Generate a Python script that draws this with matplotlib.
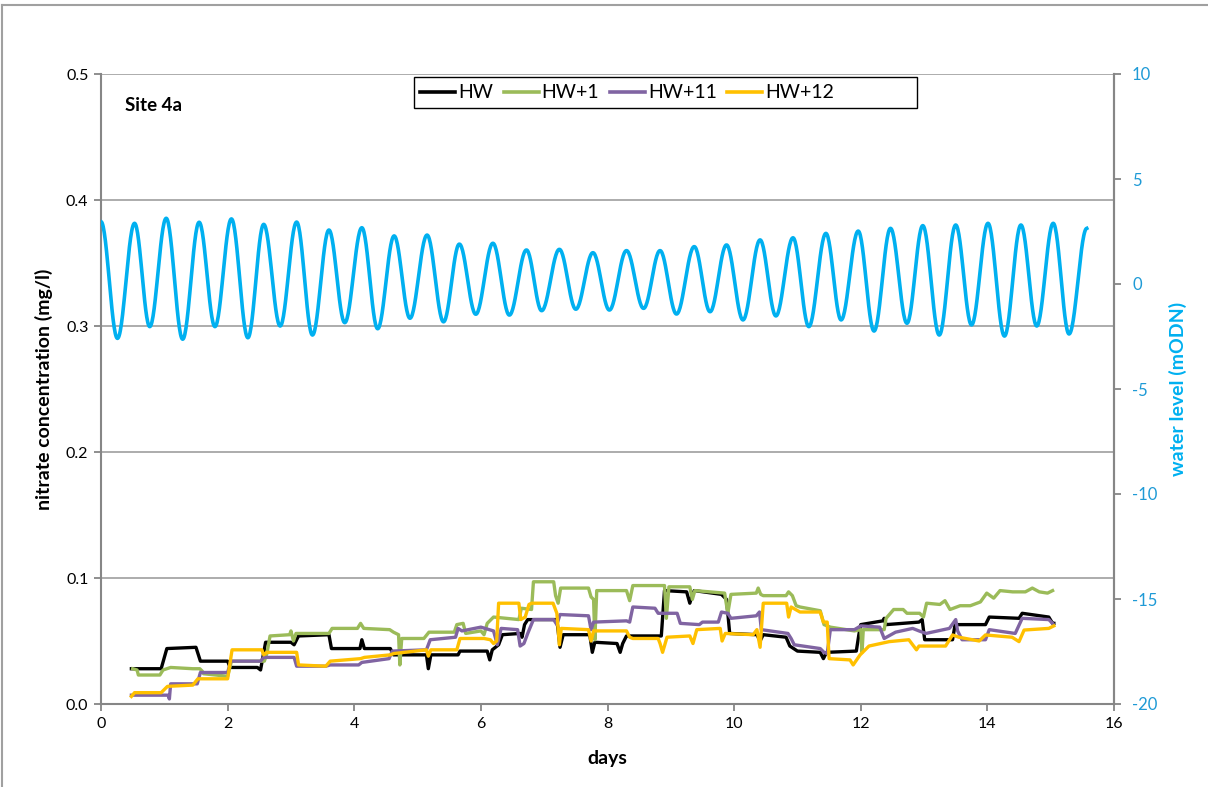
import numpy as np
import matplotlib
matplotlib.use("Agg")
import matplotlib.pyplot as plt
from matplotlib.lines import Line2D
from matplotlib.patches import Rectangle

plt.rcParams['font.family'] = ['Lato', 'DejaVu Sans']
plt.rcParams['axes.unicode_minus'] = False

# ---------------- data ----------------
hw_t = [0.48, 0.95, 1.04, 1.50, 1.57, 2.00, 2.04, 2.47, 2.52, 2.60, 3.00, 3.05, 3.12, 3.60, 3.64,
        4.09, 4.12, 4.16, 4.57, 4.62, 5.14, 5.17, 5.21, 5.64, 5.67, 6.10, 6.14, 6.18, 6.28, 6.34,
        6.62, 6.65, 6.69, 6.74, 7.20, 7.25, 7.30, 7.72, 7.76, 7.80, 8.15, 8.20, 8.24, 8.30, 8.85,
        8.90, 9.25, 9.30, 9.33, 9.37, 9.80, 9.88, 9.93, 10.36, 10.41, 10.46, 10.82, 10.88, 11.00,
        11.36, 11.41, 11.46, 11.93, 11.97, 12.00, 12.35, 12.37, 12.40, 12.92, 12.97, 13.01, 13.45,
        13.49, 13.97, 14.03, 14.50, 14.55, 14.97, 15.03, 15.05]
hw_v = [0.028, 0.028, 0.044, 0.045, 0.034, 0.034, 0.029, 0.029, 0.027, 0.049, 0.049, 0.047, 0.054, 0.055, 0.044,
        0.044, 0.051, 0.044, 0.044, 0.039, 0.039, 0.028, 0.039, 0.039, 0.042, 0.042, 0.035, 0.043, 0.047, 0.055,
        0.056, 0.053, 0.063, 0.067, 0.067, 0.045, 0.055, 0.055, 0.041, 0.049, 0.048, 0.041, 0.048, 0.054, 0.054,
        0.090, 0.089, 0.080, 0.085, 0.090, 0.087, 0.083, 0.056, 0.055, 0.050, 0.055, 0.053, 0.046, 0.042,
        0.041, 0.036, 0.041, 0.042, 0.055, 0.063, 0.066, 0.068, 0.063, 0.065, 0.067, 0.051, 0.051,
        0.063, 0.063, 0.069, 0.068, 0.072, 0.069, 0.064, 0.064]

hw1_t = [0.50, 0.57, 0.59, 0.93, 0.98, 1.10, 1.45, 1.56, 1.60, 1.62, 2.00, 2.06, 2.58, 2.62, 2.67,
         2.98, 3.00, 3.04, 3.08, 3.14, 3.60, 3.65, 4.05, 4.10, 4.15, 4.56, 4.62, 4.70, 4.72, 4.75,
         5.10, 5.18, 5.58, 5.62, 5.72, 5.76, 6.00, 6.05, 6.10, 6.20, 6.60, 6.64, 6.80, 6.83, 7.15,
         7.18, 7.22, 7.26, 7.70, 7.74, 7.78, 7.80, 7.83, 8.30, 8.35, 8.40, 8.90, 8.93, 8.97, 9.30,
         9.34, 9.38, 9.85, 9.90, 9.95, 10.35, 10.38, 10.42, 10.46, 10.82, 10.86, 10.92, 10.98, 11.04,
         11.36, 11.42, 11.52, 11.90, 12.00, 12.02, 12.04, 12.37, 12.40, 12.52, 12.67, 12.73, 12.93,
         12.99, 13.04, 13.25, 13.33, 13.41, 13.57, 13.73, 13.89, 13.99, 14.10, 14.20, 14.40, 14.60,
         14.71, 14.82, 14.95, 15.03]
hw1_v = [0.028, 0.027, 0.023, 0.023, 0.027, 0.029, 0.028, 0.028, 0.026, 0.024, 0.022, 0.034, 0.034, 0.040, 0.054,
         0.055, 0.058, 0.050, 0.056, 0.056, 0.056, 0.060, 0.060, 0.064, 0.060, 0.059, 0.057, 0.055, 0.031, 0.052,
         0.052, 0.057, 0.057, 0.063, 0.064, 0.056, 0.058, 0.055, 0.064, 0.069, 0.067, 0.076, 0.075, 0.097, 0.097,
         0.086, 0.080, 0.092, 0.092, 0.085, 0.083, 0.051, 0.090, 0.090, 0.082, 0.094, 0.094, 0.068, 0.093, 0.093,
         0.083, 0.090, 0.088, 0.072, 0.087, 0.088, 0.092, 0.087, 0.086, 0.086, 0.089, 0.086, 0.078, 0.077,
         0.074, 0.063, 0.061, 0.058, 0.059, 0.041, 0.059, 0.059, 0.068, 0.075, 0.075, 0.072, 0.072,
         0.069, 0.080, 0.079, 0.082, 0.075, 0.078, 0.078, 0.081, 0.088, 0.084, 0.090, 0.089, 0.089,
         0.092, 0.089, 0.088, 0.090]

hw11_t = [0.48, 1.06, 1.08, 1.10, 1.52, 1.57, 2.00, 2.05, 2.52, 2.57, 3.05, 3.09, 3.55, 3.62, 4.07,
          4.12, 4.55, 4.60, 5.14, 5.20, 5.60, 5.64, 5.70, 6.00, 6.20, 6.26, 6.32, 6.58, 6.62, 6.68,
          6.74, 6.83, 7.15, 7.20, 7.25, 7.70, 7.74, 7.78, 8.30, 8.35, 8.40, 8.75, 8.80, 9.10, 9.15,
          9.45, 9.50, 9.75, 9.80, 9.90, 9.95, 10.35, 10.40, 10.43, 10.85, 10.90, 10.95, 11.36, 11.42,
          11.47, 11.52, 11.90, 12.00, 12.30, 12.37, 12.55, 12.82, 12.92, 13.03, 13.40, 13.50, 13.53,
          13.60, 13.97, 14.03, 14.44, 14.55, 14.97, 15.03]
hw11_v = [0.007, 0.007, 0.004, 0.016, 0.016, 0.025, 0.025, 0.034, 0.034, 0.037, 0.037, 0.030, 0.030, 0.031, 0.031,
          0.033, 0.036, 0.042, 0.043, 0.051, 0.053, 0.060, 0.058, 0.061, 0.058, 0.047, 0.060, 0.059, 0.046, 0.048,
          0.056, 0.067, 0.067, 0.063, 0.071, 0.070, 0.059, 0.065, 0.066, 0.065, 0.077, 0.076, 0.072, 0.072, 0.064,
          0.063, 0.065, 0.065, 0.073, 0.072, 0.068, 0.070, 0.073, 0.059, 0.056, 0.052, 0.047, 0.044, 0.041,
          0.040, 0.059, 0.059, 0.062, 0.061, 0.052, 0.057, 0.060, 0.058, 0.056, 0.060, 0.067, 0.058,
          0.051, 0.051, 0.059, 0.056, 0.068, 0.067, 0.064]

hw12_t = [0.48, 0.53, 0.95, 1.05, 1.45, 1.53, 2.00, 2.07, 2.54, 2.57, 2.62, 3.09, 3.12, 3.55, 3.62,
          4.10, 4.16, 4.57, 4.62, 5.14, 5.17, 5.21, 5.62, 5.67, 6.05, 6.15, 6.20, 6.25, 6.28, 6.60,
          6.63, 6.70, 6.76, 6.80, 7.14, 7.20, 7.24, 7.27, 7.70, 7.74, 7.78, 8.30, 8.35, 8.40, 8.80,
          8.83, 8.87, 8.94, 9.30, 9.35, 9.41, 9.78, 9.81, 9.86, 10.30, 10.36, 10.41, 10.46, 10.83,
          10.86, 10.90, 10.97, 11.04, 11.36, 11.41, 11.47, 11.50, 11.83, 11.88, 11.99, 12.13, 12.45,
          12.76, 12.88, 12.92, 13.34, 13.45, 13.55, 13.87, 13.97, 14.39, 14.50, 14.58, 14.97, 15.05]
hw12_v = [0.006, 0.009, 0.009, 0.014, 0.015, 0.020, 0.020, 0.043, 0.043, 0.039, 0.041, 0.041, 0.031, 0.030, 0.034,
          0.036, 0.037, 0.039, 0.040, 0.043, 0.038, 0.043, 0.043, 0.052, 0.052, 0.051, 0.048, 0.050, 0.080, 0.080,
          0.067, 0.069, 0.079, 0.080, 0.080, 0.072, 0.047, 0.060, 0.059, 0.050, 0.058, 0.058, 0.053, 0.052, 0.052,
          0.048, 0.041, 0.053, 0.054, 0.048, 0.059, 0.060, 0.050, 0.056, 0.055, 0.059, 0.045, 0.080, 0.080,
          0.069, 0.077, 0.075, 0.073, 0.073, 0.065, 0.065, 0.036, 0.035, 0.031, 0.039, 0.046, 0.0495,
          0.051, 0.043, 0.046, 0.046, 0.0548, 0.053, 0.050, 0.0548, 0.053, 0.0495, 0.0587, 0.060, 0.062]

# water level: times and levels of successive high/low waters
wl_t = [0.00, 0.26, 0.53, 0.77, 1.03, 1.29, 1.55, 1.80, 2.06, 2.32, 2.57, 2.83, 3.09, 3.34, 3.60,
        3.85, 4.12, 4.37, 4.63, 4.88, 5.15, 5.41, 5.66, 5.92, 6.19, 6.45, 6.72, 6.96, 7.24, 7.50,
        7.77, 8.03, 8.30, 8.57, 8.83, 9.09, 9.37, 9.62, 9.88, 10.14, 10.41, 10.66, 10.93, 11.18,
        11.45, 11.69, 11.96, 12.21, 12.47, 12.73, 12.98, 13.24, 13.50, 13.75, 14.01, 14.27, 14.53,
        14.78, 15.04, 15.29, 15.57]
wl_v = [2.97, -2.59, 2.89, -2.03, 3.13, -2.63, 2.94, -2.03, 3.10, -2.56, 2.84, -2.00, 2.95, -2.43, 2.57,
        -1.84, 2.68, -2.13, 2.29, -1.63, 2.33, -1.80, 1.90, -1.44, 1.94, -1.48, 1.62, -1.27, 1.65, -1.20,
        1.49, -1.24, 1.59, -1.16, 1.59, -1.43, 1.78, -1.32, 1.86, -1.71, 2.10, -1.52, 2.20, -2.03,
        2.41, -1.71, 2.52, -2.24, 2.65, -1.87, 2.78, -2.43, 2.81, -1.95, 2.89, -2.48, 2.81,
        -2.00, 2.89, -2.38, 2.65]

series_names = ['HW', 'HW+1', 'HW+11', 'HW+12']
series_colors = ['#000000', '#9BBB59', '#8064A2', '#FFC000']

# ---------------- figure ----------------
W, H = 1208, 787
fig = plt.figure(figsize=(W / 100, H / 100), dpi=100)
ax = fig.add_axes([101 / W, 1 - 704 / H, (1114 - 101) / W, (704 - 74) / H])

# outer chart border (top and left visible)
fig.add_artist(Line2D([2 / W, 1.0], [1 - 5 / H, 1 - 5 / H], color='#A0A0A0', lw=1.5))
fig.add_artist(Line2D([2 / W, 2 / W], [0, 1 - 5 / H], color='#A0A0A0', lw=1.5))

grid_c = '#A6A6A6'
for y in [0.1, 0.2, 0.3, 0.4, 0.5]:
    ax.axhline(y, color=grid_c, lw=1.3, zorder=0)

for t, v, c, n in zip([hw_t, hw1_t, hw11_t, hw12_t], [hw_v, hw1_v, hw11_v, hw12_v],
                      series_colors, series_names):
    ax.plot(t, v, color=c, lw=2.4, label=n, solid_joinstyle='round', zorder=3)

ax.set_xlim(0, 16)
ax.set_ylim(0, 0.5)
ax.set_xticks(range(0, 17, 2))
ax.set_yticks([0.0, 0.1, 0.2, 0.3, 0.4, 0.5])
ax.set_yticklabels(['0.0', '0.1', '0.2', '0.3', '0.4', '0.5'])
for s in ['left', 'bottom', 'right']:
    ax.spines[s].set_color('#868686')
    ax.spines[s].set_linewidth(1.5)
ax.spines['top'].set_visible(False)
ax.tick_params(axis='both', direction='out', length=5, width=1.3, color='#868686',
               labelsize=11.5, pad=4)
ax.set_xlabel('days', fontsize=14, fontweight='bold', labelpad=14)
ax.set_ylabel('nitrate concentration (mg/l)', fontsize=14, fontweight='bold', labelpad=9)
ax.text(0.024, 0.963, 'Site 4a', transform=ax.transAxes, fontsize=13.5, fontweight='bold',
        va='top', ha='left')

# secondary axis: water level
ax2 = ax.twinx()
wl_col = '#00B0F0'
# smooth tidal curve between the read extrema (half-cosine shape between turning points)
xs, ys = [], []
for i in range(len(wl_t) - 1):
    s = np.linspace(0, 1, 30, endpoint=False)
    xs.extend(wl_t[i] + (wl_t[i + 1] - wl_t[i]) * s)
    ys.extend(wl_v[i] + (wl_v[i + 1] - wl_v[i]) * (1 - np.cos(np.pi * s)) / 2)
xs.append(wl_t[-1]); ys.append(wl_v[-1])
ax2.plot(xs, ys, color=wl_col, lw=2.6, zorder=3)
ax2.set_ylim(-20, 10)
ax2.set_yticks(range(-20, 11, 5))
ax2.spines['top'].set_visible(False)
ax2.spines['right'].set_color('#868686')
ax2.spines['right'].set_linewidth(1.5)
ax2.spines['left'].set_visible(False)
ax2.spines['bottom'].set_visible(False)
ax2.tick_params(axis='y', direction='out', length=5, width=1.3, color='#868686',
                labelsize=12, labelcolor='#1E9AD6', pad=8)
ax2.set_ylabel('water level (mODN)', fontsize=14, fontweight='bold', color=wl_col, labelpad=8)

# legend: box drawn as a rectangle, entries left-aligned inside it
fig.add_artist(Rectangle((414 / W, 1 - 108 / H), (917 - 414) / W, (108 - 77) / H,
                         transform=fig.transFigure, fill=True, facecolor='white',
                         edgecolor='black', lw=1.0, zorder=9))
handles = [Line2D([], [], color=c, lw=2.6) for c in series_colors]
leg = fig.legend(handles, series_names, loc='center left', ncol=4,
                 bbox_to_anchor=(420 / W, 1 - 93 / H),
                 frameon=False, fontsize=14, handlelength=1.8, handletextpad=0.15,
                 columnspacing=0.55, borderpad=0.0, borderaxespad=0)
leg.set_zorder(10)

fig.savefig('out.png', dpi=100)
